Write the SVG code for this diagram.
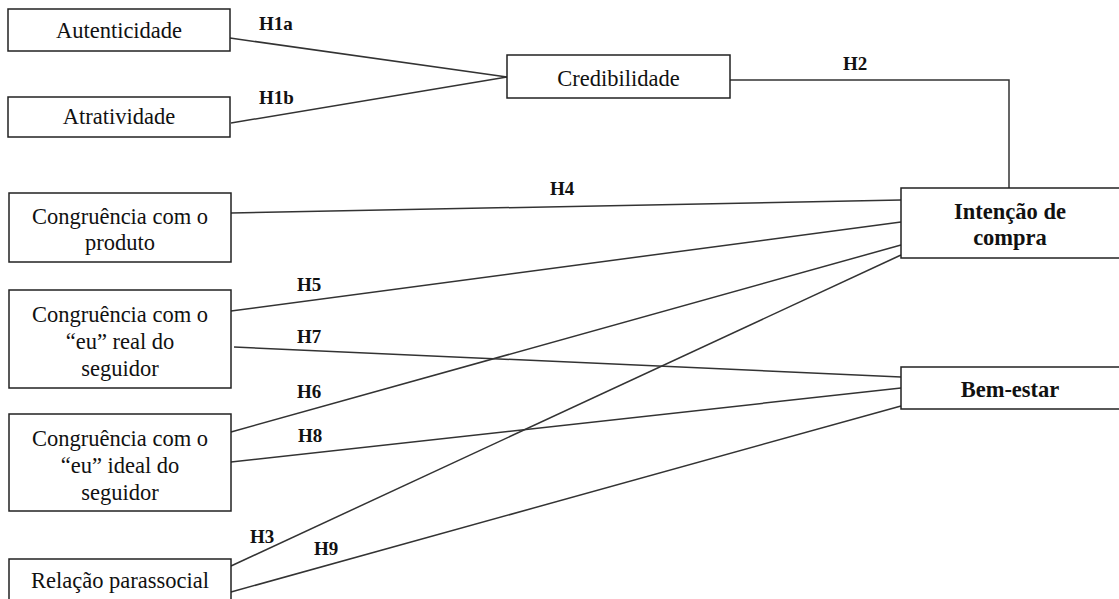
<svg xmlns="http://www.w3.org/2000/svg" width="1119" height="599" viewBox="0 0 1119 599">
<style>
.box{fill:#fff;stroke:#222;stroke-width:1.5}
.t{font-family:"Liberation Serif","Times New Roman",serif;font-size:22.5px;fill:#111;text-anchor:middle}
.b{font-weight:bold}
.lbl{font-family:"Liberation Serif","Times New Roman",serif;font-size:19px;font-weight:bold;fill:#111}
.c{fill:none;stroke:#333;stroke-width:1.5}
</style>
<rect width="1119" height="599" fill="#fff"/>
<g id="connectors">
<line class="c" x1="230" y1="38" x2="507" y2="77"/>
<line class="c" x1="231" y1="123" x2="507" y2="77"/>
<polyline class="c" points="730,80 1009,80 1009,188"/>
<line class="c" x1="231" y1="213" x2="901" y2="200"/>
<line class="c" x1="231" y1="311" x2="901" y2="222"/>
<line class="c" x1="234" y1="347" x2="901" y2="377"/>
<line class="c" x1="231" y1="432" x2="901" y2="245"/>
<line class="c" x1="231" y1="462" x2="901" y2="388"/>
<line class="c" x1="231" y1="566" x2="901" y2="255"/>
<line class="c" x1="231" y1="592" x2="901" y2="406"/>
<text class="lbl" x="259" y="30">H1a</text>
<text class="lbl" x="259" y="104">H1b</text>
<text class="lbl" x="843" y="70">H2</text>
<text class="lbl" x="550" y="195">H4</text>
<text class="lbl" x="297" y="291">H5</text>
<text class="lbl" x="297" y="343">H7</text>
<text class="lbl" x="297" y="398">H6</text>
<text class="lbl" x="298" y="442">H8</text>
<text class="lbl" x="250" y="543">H3</text>
<text class="lbl" x="314" y="555">H9</text>
</g>
<g id="autenticidade">
<rect class="box" x="8" y="9" width="222" height="42"/>
<text class="t" x="119" y="38">Autenticidade</text>
</g>
<g id="atratividade">
<rect class="box" x="8" y="97" width="222" height="40"/>
<text class="t" x="119" y="124">Atratividade</text>
</g>
<g id="credibilidade">
<rect class="box" x="507" y="55" width="223" height="43"/>
<text class="t" x="618.5" y="86">Credibilidade</text>
</g>
<g id="congruencia-produto">
<rect class="box" x="9" y="193" width="222" height="69"/>
<text class="t" x="120" y="224">Congruência com o</text>
<text class="t" x="120" y="250">produto</text>
</g>
<g id="congruencia-real">
<rect class="box" x="9" y="290" width="222" height="98"/>
<text class="t" x="120" y="322">Congruência com o</text>
<text class="t" x="120" y="349">“eu” real do</text>
<text class="t" x="120" y="376">seguidor</text>
</g>
<g id="congruencia-ideal">
<rect class="box" x="9" y="414" width="222" height="97"/>
<text class="t" x="120" y="446">Congruência com o</text>
<text class="t" x="120" y="473">“eu” ideal do</text>
<text class="t" x="120" y="500">seguidor</text>
</g>
<g id="relacao-parassocial">
<rect class="box" x="9" y="559" width="222" height="60"/>
<text class="t" x="120" y="588">Relação parassocial</text>
</g>
<g id="intencao-compra">
<rect class="box" x="901" y="188" width="222" height="70"/>
<text class="t b" x="1010" y="219">Intenção de</text>
<text class="t b" x="1010" y="245">compra</text>
</g>
<g id="bem-estar">
<rect class="box" x="901" y="367" width="222" height="42"/>
<text class="t b" x="1010" y="397">Bem-estar</text>
</g>
</svg>
